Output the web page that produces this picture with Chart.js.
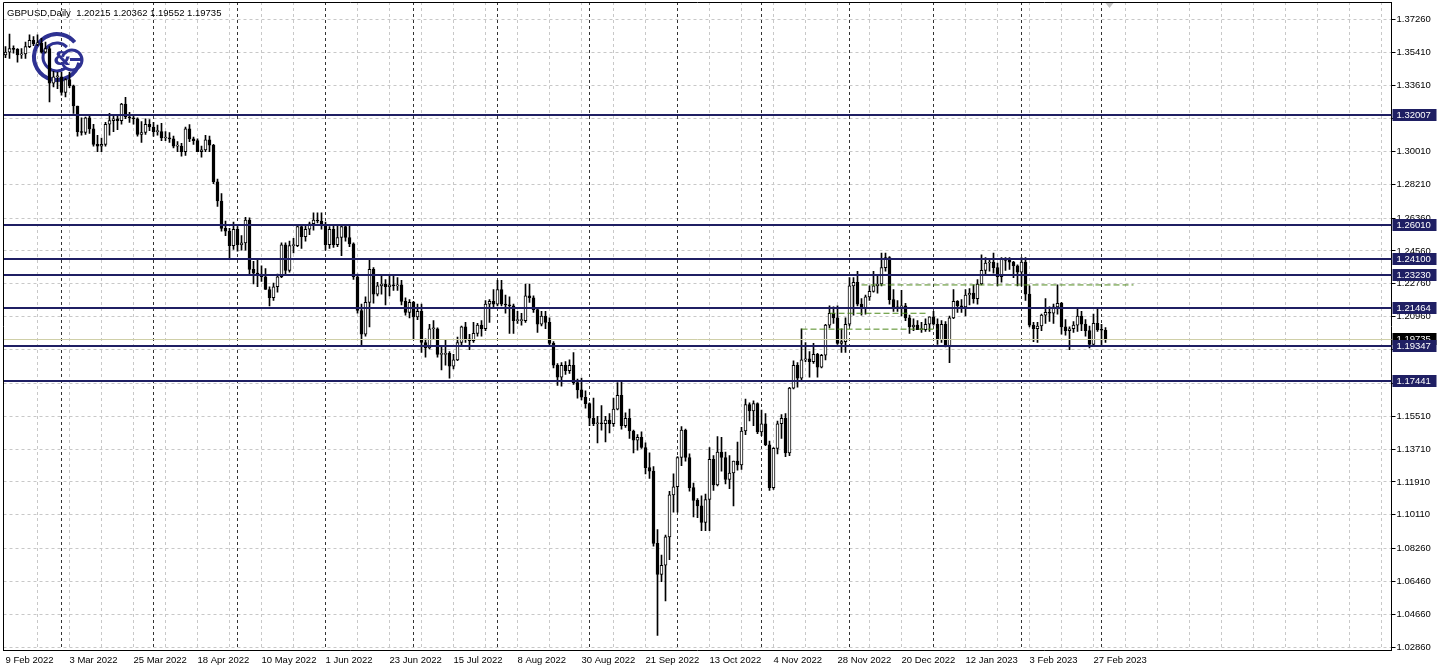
<!DOCTYPE html>
<html>
<head>
<meta charset="utf-8">
<title>GBPUSD Daily</title>
<script src="https://cdn.jsdelivr.net/npm/chart.js@4.4.1/dist/chart.umd.min.js"></script>
<style>
  html, body { margin: 0; padding: 0; background: #ffffff; }
  #wrap { width: 1438px; height: 671px; }
</style>
</head>
<body>
<div id="wrap"><canvas id="chart" width="1438" height="671"></canvas></div>
<script>
// number of bar slots on the time axis (trading days + empty shift area on the right)
const slotCount = 347;

// date labels under the chart, one every 16 bars
const labelStep = 16;
const dateLabels = ['9 Feb 2022', '3 Mar 2022', '25 Mar 2022', '18 Apr 2022', '10 May 2022', '1 Jun 2022',
  '23 Jun 2022', '15 Jul 2022', '8 Aug 2022', '30 Aug 2022', '21 Sep 2022', '13 Oct 2022', '4 Nov 2022',
  '28 Nov 2022', '20 Dec 2022', '12 Jan 2023', '3 Feb 2023', '27 Feb 2023'];

// first bar of every month (period separators)
const monthStarts = [14, 37, 58, 80, 102, 123, 146, 168, 189, 211, 232, 254, 274];

// price scale labels
const priceTicks = [1.37260, 1.35410, 1.33610, 1.31810, 1.30010, 1.28210, 1.26360, 1.24560, 1.22760,
  1.20960, 1.19160, 1.17310, 1.15510, 1.13710, 1.11910, 1.10110, 1.08260, 1.06460, 1.04660, 1.02860];

// daily candles, 9 Feb 2022 .. 2 Mar 2023 (one line per month)
const opens = [
  1.3530,1.3545,1.3565,1.3560,1.3530,1.3535,1.3575,1.3610,1.3590,1.3595,1.3545,1.3565,1.3375,1.3410,
  1.3410,1.3325,1.3395,1.3360,1.3250,1.3110,1.3105,1.3185,1.3125,1.3040,1.3030,1.3040,1.3150,1.3170,1.3180,1.3170,1.3260,1.3190,1.3185,1.3180,1.3095,1.3105,1.3150,
  1.3135,1.3110,1.3110,1.3075,1.3075,1.3070,1.3030,1.3030,1.3000,1.3125,1.3070,1.3060,1.3000,1.3010,1.3065,1.3035,1.2835,1.2730,1.2580,1.2565,1.2485,
  1.2575,1.2490,1.2500,1.2625,1.2355,1.2335,1.2330,1.2315,1.2245,1.2200,1.2260,1.2315,1.2490,1.2350,1.2485,1.2485,1.2590,1.2535,1.2575,1.2605,1.2625,1.2620,
  1.2600,1.2490,1.2575,1.2490,1.2530,1.2590,1.2530,1.2495,1.2315,1.2130,1.2000,1.2175,1.2355,1.2220,1.2265,1.2275,1.2260,1.2270,1.2265,1.2270,1.2180,1.2120,
  1.2175,1.2095,1.2125,1.1955,1.1925,1.2030,1.2030,1.1890,1.1890,1.1895,1.1825,1.1860,1.1955,1.2040,1.1975,1.1965,1.2005,1.2050,1.2030,1.2165,1.2180,
  1.2165,1.2245,1.2165,1.2160,1.2155,1.2075,1.2075,1.2075,1.2210,1.2200,1.2135,1.2055,1.2100,1.2065,1.1950,1.1830,1.1765,1.1830,1.1800,1.1830,1.1735,1.1695,1.1655,
  1.1620,1.1540,1.1510,1.1515,1.1510,1.1530,1.1510,1.1590,1.1665,1.1500,1.1540,1.1470,1.1420,1.1435,1.1380,1.1270,1.1250,1.0855,1.0685,1.0735,1.0890,1.1120,
  1.1165,1.1325,1.1475,1.1325,1.1160,1.1090,1.1060,1.0970,1.1095,1.1315,1.1175,1.1355,1.1325,1.1205,1.1240,1.1305,1.1285,1.1470,1.1615,1.1580,1.1620,
  1.1465,1.1510,1.1395,1.1160,1.1375,1.1510,1.1540,1.1350,1.1705,1.1830,1.1760,1.1860,1.1865,1.1850,1.1890,1.1820,1.1885,1.2050,1.2115,1.2090,1.1950,1.1960,
  1.2055,1.2265,1.2285,1.2165,1.2145,1.2205,1.2235,1.2265,1.2275,1.2365,1.2420,1.2190,1.2140,1.2150,1.2155,1.2090,1.2040,1.2050,1.2025,1.2025,1.2055,
  1.2095,1.2055,1.1970,1.2055,1.1935,1.2090,1.2180,1.2155,1.2150,1.2215,1.2225,1.2195,1.2275,1.2350,1.2390,1.2395,1.2365,1.2315,1.2415,1.2405,1.2395,1.2375,
  1.2340,1.2395,1.2220,1.2050,1.2030,1.2045,1.2105,1.2120,1.2115,1.2150,1.2170,1.2040,1.2020,1.2030,1.2050,1.2100,1.2055,1.2020,1.1945,1.2060,
  1.2025,1.20215
];
const highs = [
  1.3575,1.3644,1.3580,1.3565,1.3565,1.3600,1.3640,1.3630,1.3640,1.3620,1.3600,1.3575,1.3440,1.3435,
  1.3435,1.3400,1.3435,1.3365,1.3250,1.3185,1.3190,1.3195,1.3150,1.3090,1.3075,1.3160,1.3210,1.3195,1.3200,1.3265,1.3298,1.3215,1.3205,1.3185,1.3165,1.3180,1.3175,
  1.3160,1.3145,1.3155,1.3110,1.3105,1.3085,1.3055,1.3045,1.3135,1.3148,1.3080,1.3070,1.3030,1.3090,1.3085,1.3040,1.2850,1.2770,1.2620,1.2580,1.2615,
  1.2590,1.2540,1.2640,1.2637,1.2400,1.2405,1.2375,1.2360,1.2260,1.2280,1.2330,1.2500,1.2500,1.2510,1.2525,1.2600,1.2600,1.2600,1.2615,1.2665,1.2665,1.2665,
  1.2615,1.2590,1.2595,1.2600,1.2600,1.2600,1.2600,1.2500,1.2330,1.2165,1.2205,1.2405,1.2365,1.2285,1.2325,1.2300,1.2320,1.2325,1.2310,1.2295,1.2200,1.2190,
  1.2180,1.2165,1.2165,1.1975,1.2055,1.2075,1.2035,1.1935,1.1970,1.1905,1.1890,1.1985,1.2045,1.2065,1.2000,1.2065,1.2060,1.2075,1.2185,1.2190,1.2245,
  1.2295,1.2295,1.2215,1.2205,1.2165,1.2125,1.2115,1.2275,1.2275,1.2210,1.2140,1.2125,1.2125,1.2090,1.1960,1.1840,1.1845,1.1850,1.1860,1.1900,1.1755,1.1760,1.1690,
  1.1625,1.1650,1.1550,1.1610,1.1550,1.1565,1.1650,1.1735,1.1740,1.1570,1.1590,1.1475,1.1450,1.1465,1.1405,1.1350,1.1275,1.0930,1.0790,1.0900,1.1140,1.1235,
  1.1330,1.1495,1.1480,1.1345,1.1185,1.1100,1.1115,1.1125,1.1380,1.1335,1.1440,1.1435,1.1355,1.1335,1.1305,1.1410,1.1490,1.1645,1.1625,1.1635,1.1625,
  1.1585,1.1565,1.1415,1.1380,1.1525,1.1560,1.1565,1.1710,1.1855,1.1845,1.2030,1.1955,1.1905,1.1950,1.1895,1.1890,1.2055,1.2155,1.2150,1.2155,1.2030,1.2090,
  1.2310,1.2310,1.2345,1.2195,1.2215,1.2265,1.2345,1.2320,1.2445,1.2445,1.2425,1.2245,1.2185,1.2240,1.2170,1.2105,1.2085,1.2075,1.2065,1.2085,1.2095,
  1.2125,1.2085,1.2075,1.2070,1.2100,1.2245,1.2185,1.2190,1.2245,1.2250,1.2270,1.2300,1.2435,1.2420,1.2415,1.2445,1.2390,1.2420,1.2420,1.2420,1.2400,1.2380,
  1.2420,1.2420,1.2265,1.2065,1.2065,1.2110,1.2195,1.2150,1.2165,1.2270,1.2175,1.2080,1.2040,1.2070,1.2145,1.2125,1.2080,1.2045,1.2110,1.2145,
  1.2055,1.20362
];
const lows = [
  1.3515,1.3510,1.3540,1.3490,1.3510,1.3510,1.3570,1.3580,1.3580,1.3540,1.3540,1.3273,1.3355,1.3345,
  1.3310,1.3300,1.3350,1.3210,1.3085,1.3090,1.3095,1.3100,1.3030,1.3000,1.3000,1.3030,1.3090,1.3110,1.3120,1.3150,1.3180,1.3160,1.3150,1.3085,1.3050,1.3095,1.3115,
  1.3085,1.3090,1.3060,1.3060,1.3050,1.3020,1.3000,1.2975,1.2980,1.3055,1.3040,1.3000,1.2970,1.3000,1.3000,1.2825,1.2700,1.2565,1.2540,1.2410,1.2465,
  1.2455,1.2460,1.2460,1.2325,1.2275,1.2260,1.2290,1.2245,1.2155,1.2185,1.2230,1.2310,1.2330,1.2340,1.2445,1.2480,1.2470,1.2510,1.2545,1.2570,1.2610,1.2575,
  1.2460,1.2470,1.2475,1.2480,1.2430,1.2510,1.2480,1.2300,1.2115,1.1935,1.1990,1.2040,1.2170,1.2210,1.2220,1.2160,1.2210,1.2240,1.2240,1.2160,1.2105,1.2090,
  1.1975,1.2080,1.1900,1.1875,1.1920,1.1975,1.1875,1.1805,1.1830,1.1760,1.1810,1.1855,1.1935,1.1955,1.1915,1.1955,1.1990,1.1990,1.2020,1.2065,1.2140,
  1.2155,1.2155,1.2115,1.2005,1.2005,1.2060,1.2050,1.2065,1.2175,1.2120,1.2010,1.2045,1.2030,1.1935,1.1815,1.1720,1.1715,1.1780,1.1785,1.1725,1.1650,1.1640,1.1595,
  1.1500,1.1500,1.1405,1.1475,1.1410,1.1460,1.1495,1.1585,1.1480,1.1490,1.1430,1.1350,1.1365,1.1375,1.1235,1.1210,1.0840,1.0350,1.0645,1.0540,1.0765,1.1025,
  1.1025,1.1280,1.1305,1.1140,1.1000,1.0995,1.0925,1.0925,1.0925,1.1145,1.1170,1.1250,1.1180,1.1155,1.1060,1.1255,1.1260,1.1450,1.1525,1.1500,1.1455,
  1.1445,1.1390,1.1145,1.1150,1.1345,1.1430,1.1330,1.1335,1.1700,1.1710,1.1745,1.1850,1.1765,1.1840,1.1765,1.1815,1.1860,1.2035,1.2060,1.1945,1.1900,1.1900,
  1.2045,1.2105,1.2155,1.2105,1.2110,1.2185,1.2230,1.2225,1.2265,1.2345,1.2165,1.2125,1.2125,1.2100,1.2075,1.2005,1.2020,1.2025,1.2010,1.2015,1.2015,
  1.2050,1.1945,1.1955,1.1930,1.1845,1.2085,1.2120,1.2120,1.2100,1.2160,1.2170,1.2165,1.2270,1.2330,1.2345,1.2335,1.2265,1.2285,1.2350,1.2355,1.2310,1.2265,
  1.2265,1.2185,1.2040,1.1960,1.1955,1.2020,1.2060,1.2070,1.2060,1.2110,1.2000,1.1995,1.1915,1.2010,1.2015,1.2020,1.1990,1.1925,1.1940,1.2015,
  1.1940,1.19552
];
const closes = [
  1.3545,1.3565,1.3560,1.3530,1.3535,1.3575,1.3610,1.3590,1.3595,1.3545,1.3565,1.3375,1.3410,1.3410,
  1.3325,1.3395,1.3360,1.3250,1.3110,1.3105,1.3185,1.3125,1.3040,1.3030,1.3040,1.3150,1.3170,1.3180,1.3170,1.3260,1.3190,1.3185,1.3180,1.3095,1.3105,1.3150,1.3135,
  1.3110,1.3110,1.3075,1.3075,1.3070,1.3030,1.3030,1.3000,1.3125,1.3070,1.3060,1.3000,1.3010,1.3065,1.3035,1.2835,1.2730,1.2580,1.2565,1.2485,1.2575,
  1.2490,1.2500,1.2625,1.2355,1.2335,1.2330,1.2315,1.2245,1.2200,1.2260,1.2315,1.2490,1.2350,1.2485,1.2485,1.2590,1.2535,1.2575,1.2605,1.2625,1.2620,1.2600,
  1.2490,1.2575,1.2490,1.2530,1.2590,1.2530,1.2495,1.2315,1.2130,1.2000,1.2175,1.2355,1.2220,1.2265,1.2275,1.2260,1.2270,1.2265,1.2270,1.2180,1.2120,1.2175,
  1.2095,1.2125,1.1955,1.1925,1.2030,1.2030,1.1890,1.1890,1.1895,1.1825,1.1860,1.1955,1.2040,1.1975,1.1965,1.2005,1.2050,1.2030,1.2165,1.2180,1.2165,
  1.2245,1.2165,1.2160,1.2155,1.2075,1.2075,1.2075,1.2210,1.2200,1.2135,1.2055,1.2100,1.2065,1.1950,1.1830,1.1765,1.1830,1.1800,1.1830,1.1735,1.1695,1.1655,1.1620,
  1.1540,1.1510,1.1515,1.1510,1.1530,1.1510,1.1590,1.1665,1.1500,1.1540,1.1470,1.1420,1.1435,1.1380,1.1270,1.1250,1.0855,1.0685,1.0735,1.0890,1.1120,1.1165,
  1.1325,1.1475,1.1325,1.1160,1.1090,1.1060,1.0970,1.1095,1.1315,1.1175,1.1355,1.1325,1.1205,1.1240,1.1305,1.1285,1.1470,1.1615,1.1580,1.1620,1.1465,
  1.1510,1.1395,1.1160,1.1375,1.1510,1.1540,1.1350,1.1705,1.1830,1.1760,1.1860,1.1865,1.1850,1.1890,1.1820,1.1885,1.2050,1.2115,1.2090,1.1950,1.1960,1.2055,
  1.2265,1.2285,1.2165,1.2145,1.2205,1.2235,1.2265,1.2275,1.2365,1.2420,1.2190,1.2140,1.2150,1.2155,1.2090,1.2040,1.2050,1.2025,1.2025,1.2055,1.2095,
  1.2055,1.1970,1.2055,1.1935,1.2090,1.2180,1.2155,1.2150,1.2215,1.2225,1.2195,1.2275,1.2350,1.2390,1.2395,1.2365,1.2315,1.2415,1.2405,1.2395,1.2375,1.2340,
  1.2395,1.2220,1.2050,1.2030,1.2045,1.2105,1.2120,1.2115,1.2150,1.2170,1.2040,1.2020,1.2030,1.2050,1.2100,1.2055,1.2020,1.1945,1.2060,1.2025,
  1.2022,1.19735
];

// horizontal support / resistance levels and the current bid
const levels = [1.32007, 1.26010, 1.24100, 1.23230, 1.21464, 1.19347, 1.17441];
const bidPrice = 1.19735;
const headerText = 'GBPUSD,Daily  1.20215 1.20362 1.19552 1.19735';

// green dashed segments (start bar, end bar, price)
const segStart = [214, 206, 199];
const segEnd = [282, 230, 233];
const segPrice = [1.2270, 1.2115, 1.2028];

const navy = '#1f1f63';
const gridColor = '#c8c8c8';

Chart.defaults.font.family = "'Liberation Sans', Arial, sans-serif";
Chart.defaults.font.size = 9.5;
Chart.defaults.color = '#000000';

// extra drawing: separators, logo, levels, frame, price boxes
const overlay = {
    id: 'overlay',
    beforeDatasetsDraw(chart) {
        const { ctx, chartArea: a, scales: { x } } = chart;
        ctx.save();
        ctx.strokeStyle = '#333333';
        ctx.lineWidth = 1;
        ctx.setLineDash([3, 3]);
        monthStarts.forEach(i => {
            const px = Math.floor(x.getPixelForValue(i)) + 0.5;
            ctx.beginPath();
            ctx.moveTo(px, a.top);
            ctx.lineTo(px, a.bottom);
            ctx.stroke();
        });
        ctx.setLineDash([]);

        // broker logo in the corner
        ctx.strokeStyle = '#2e3192';
        ctx.fillStyle = '#2e3192';
        ctx.lineWidth = 4;
        ctx.beginPath();
        ctx.arc(57, 57, 23, 0.08 * Math.PI, 1.78 * Math.PI);
        ctx.stroke();
        ctx.lineWidth = 3;
        ctx.beginPath();
        ctx.arc(57, 57, 14, 0.3 * Math.PI, 1.75 * Math.PI);
        ctx.stroke();
        ctx.beginPath();
        ctx.arc(72, 60, 10, 1.1 * Math.PI, 0.9 * Math.PI, false);
        ctx.stroke();
        ctx.fillRect(70, 58, 13, 3);
        ctx.font = "bold 20px 'DejaVu Sans'";
        ctx.textAlign = 'center';
        ctx.textBaseline = 'middle';
        ctx.fillText('&', 62, 60);
        ctx.restore();
    },
    afterDatasetsDraw(chart) {
        const { ctx, chartArea: a, scales: { y } } = chart;
        ctx.save();
        // bid line
        ctx.strokeStyle = '#cfcfa8';
        ctx.lineWidth = 1;
        const by = Math.floor(y.getPixelForValue(bidPrice)) + 0.5;
        ctx.beginPath();
        ctx.moveTo(a.left, by);
        ctx.lineTo(a.right, by);
        ctx.stroke();
        // levels
        ctx.fillStyle = navy;
        levels.forEach(v => {
            const py = Math.round(y.getPixelForValue(v));
            ctx.fillRect(a.left, py - 1, a.right - a.left, 2);
        });
        ctx.restore();
    },
    afterDraw(chart) {
        const { ctx, chartArea: a, scales: { x, y } } = chart;
        ctx.save();
        // frame
        ctx.strokeStyle = '#000000';
        ctx.lineWidth = 1;
        ctx.beginPath();
        ctx.moveTo(Math.floor(a.left) + 0.5, a.bottom);
        ctx.lineTo(Math.floor(a.left) + 0.5, Math.floor(a.top) + 0.5);
        ctx.lineTo(a.right, Math.floor(a.top) + 0.5);
        ctx.stroke();

        // header
        ctx.fillStyle = '#000000';
        ctx.font = "9.5px 'Liberation Sans'";
        ctx.textAlign = 'left';
        ctx.textBaseline = 'middle';
        ctx.fillText(headerText, 7, 13);

        // shift marker
        const sx = x.getPixelForValue(opens.length);
        ctx.fillStyle = '#c4c4c4';
        ctx.beginPath();
        ctx.moveTo(sx - 4, a.top + 1);
        ctx.lineTo(sx + 4, a.top + 1);
        ctx.lineTo(sx, a.top + 6);
        ctx.closePath();
        ctx.fill();

        // price boxes on the axis
        const drawBox = (v, bg) => {
            const py = Math.round(y.getPixelForValue(v));
            ctx.fillStyle = bg;
            ctx.fillRect(a.right + 1, py - 6, 44, 12);
            ctx.fillStyle = '#ffffff';
            ctx.fillText(v.toFixed(5), a.right + 5, py + 0.5);
        };
        drawBox(bidPrice, '#000000');
        levels.forEach(v => drawBox(v, navy));
        ctx.restore();
    }
};

const slots = Array.from({ length: slotCount }, (_, i) => i);
const bodyFill = opens.map((o, i) => closes[i] >= o ? '#ffffff' : '#000000');

const datasets = [
    {
        type: 'bar',
        data: opens.map((o, i) => [o, closes[i]]),
        backgroundColor: bodyFill,
        borderColor: '#000000',
        borderWidth: 1,
        borderSkipped: false,
        barThickness: 3,
        minBarLength: 1,
        grouped: false,
        order: 1
    },
    {
        type: 'bar',
        data: lows.map((l, i) => [l, highs[i]]),
        backgroundColor: '#000000',
        borderWidth: 0,
        barThickness: 1,
        grouped: false,
        order: 2
    }
];
segStart.forEach((s, k) => {
    datasets.push({
        type: 'line',
        data: [{ x: s, y: segPrice[k] }, { x: segEnd[k], y: segPrice[k] }],
        borderColor: '#4f8a1c',
        borderWidth: 1,
        borderDash: [6, 3],
        pointRadius: 0,
        order: 0
    });
});

new Chart(document.getElementById('chart'), {
    type: 'bar',
    data: { labels: slots, datasets: datasets },
    options: {
        responsive: false,
        devicePixelRatio: 1,
        animation: false,
        events: [],
        layout: { padding: { left: 3.5, top: 2, right: 0, bottom: 0 } },
        plugins: { legend: { display: false }, tooltip: { enabled: false } },
        scales: {
            x: {
                type: 'category',
                offset: true,
                grid: {
                    offset: false,
                    drawTicks: false,
                    color: ctx => (ctx.index > 0 && ctx.index % 8 === 0) ? gridColor : 'rgba(0,0,0,0)'
                },
                border: { color: '#000000', dash: [3, 3] },
                ticks: {
                    autoSkip: false,
                    maxRotation: 0,
                    minRotation: 0,
                    align: 'start',
                    padding: 5,
                    callback: (v, i) => (i % labelStep === 0 && dateLabels[i / labelStep]) ? dateLabels[i / labelStep] : ''
                },
                afterFit: s => { s.height = 21; s.paddingLeft = 0; s.paddingRight = 0; }
            },
            y: {
                type: 'linear',
                position: 'right',
                min: 1.02708,
                max: 1.38196,
                grid: { color: gridColor, tickColor: '#000000', tickLength: 4 },
                border: { color: '#000000', dash: [3, 3] },
                afterBuildTicks: s => { s.ticks = priceTicks.map(v => ({ value: v })); },
                ticks: {
                    autoSkip: false,
                    padding: 1,
                    callback: v => Number(v).toFixed(5)
                },
                afterFit: s => { s.width = 46.5; s.paddingTop = 0; s.paddingBottom = 0; }
            }
        }
    },
    plugins: [overlay]
});
</script>
</body>
</html>
